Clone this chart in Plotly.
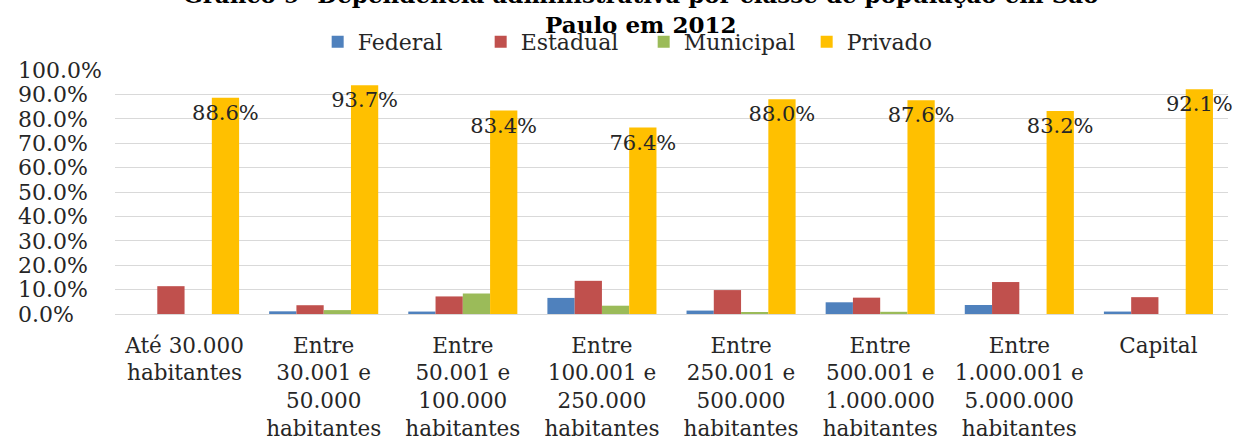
import plotly.graph_objects as go

# Classes de população (municípios de São Paulo)
categorias = [
    "Até 30.000<br>habitantes",
    "Entre<br>30.001 e<br>50.000<br>habitantes",
    "Entre<br>50.001 e<br>100.000<br>habitantes",
    "Entre<br>100.001 e<br>250.000<br>habitantes",
    "Entre<br>250.001 e<br>500.000<br>habitantes",
    "Entre<br>500.001 e<br>1.000.000<br>habitantes",
    "Entre<br>1.000.001 e<br>5.000.000<br>habitantes",
    "Capital",
]

# Participação (%) por dependência administrativa
federal = [0.0, 1.1, 1.0, 6.6, 1.4, 4.8, 3.7, 1.0]
estadual = [11.4, 3.6, 7.2, 13.6, 9.8, 6.7, 13.1, 6.9]
municipal = [0.0, 1.6, 8.4, 3.4, 0.6, 0.9, 0.0, 0.0]
privado = [88.6, 93.7, 83.4, 76.4, 88.0, 87.6, 83.2, 92.1]

y_ticks = [0, 10, 20, 30, 40, 50, 60, 70, 80, 90, 100]
y_tick_labels = ["0.0%", "10.0%", "20.0%", "30.0%", "40.0%", "50.0%",
                 "60.0%", "70.0%", "80.0%", "90.0%", "100.0%"]

titulo = ("Gráfico 9- Dependência administrativa por classe de população em São"
          "<br>Paulo em 2012")

SERIF = "DejaVu Serif"
TXT = "#262626"

# left-align the axis labels by padding with figure spaces
largura = max(len(t) for t in y_tick_labels)
y_tick_text = [t + "\u2007" * (largura - len(t)) for t in y_tick_labels]

fig = go.Figure()
series = [
    ("Federal", federal, "#4F81BD"),
    ("Estadual", estadual, "#C0504D"),
    ("Municipal", municipal, "#9BBB59"),
]
for nome, vals, cor in series:
    fig.add_trace(go.Bar(name=nome, x=categorias, y=vals, marker_color=cor,
                         marker_line_width=0))

fig.add_trace(go.Bar(
    name="Privado", x=categorias, y=privado, marker_color="#FFC000",
    marker_line_width=0,
    text=[f"{v:.1f}%" for v in privado],
    textposition="inside", insidetextanchor="end", textangle=0,
    constraintext="none", cliponaxis=False,
    insidetextfont=dict(family=SERIF, size=21, color=TXT),
))

fig.update_layout(
    width=1236, height=444,
    margin=dict(l=115, r=8, t=70, b=130),
    paper_bgcolor="white", plot_bgcolor="white",
    barmode="group", bargap=0.216, bargroupgap=0,
    font=dict(family=SERIF, color=TXT),
    showlegend=True,
    legend=dict(orientation="h", x=0.475, xanchor="center",
                y=1.115, yanchor="middle",
                font=dict(family=SERIF, size=22, color=TXT),
                bgcolor="rgba(0,0,0,0)", itemwidth=30,
                entrywidth=118, entrywidthmode="pixels"),
    xaxis=dict(showgrid=False, showline=False, ticks="", automargin=False,
               tickfont=dict(family=SERIF, size=21.5, color=TXT),
               ticklabelstandoff=16),
    yaxis=dict(range=[0, 100], tickvals=y_ticks, ticktext=y_tick_text,
               showgrid=True, gridcolor="#d9d9d9", gridwidth=1,
               zeroline=True, zerolinecolor="#d9d9d9", zerolinewidth=1,
               showline=False, ticks="", ticklabelstandoff=12,
               automargin=False,
               tickfont=dict(family=SERIF, size=22, color=TXT)),
    annotations=[dict(
        text=titulo, xref="paper", yref="paper", x=0.4726, y=1.121,
        xanchor="center", yanchor="bottom", showarrow=False,
        font=dict(family=SERIF, size=23, color="#000000", weight="bold"),
    )],
)

fig.write_html("out.html")
